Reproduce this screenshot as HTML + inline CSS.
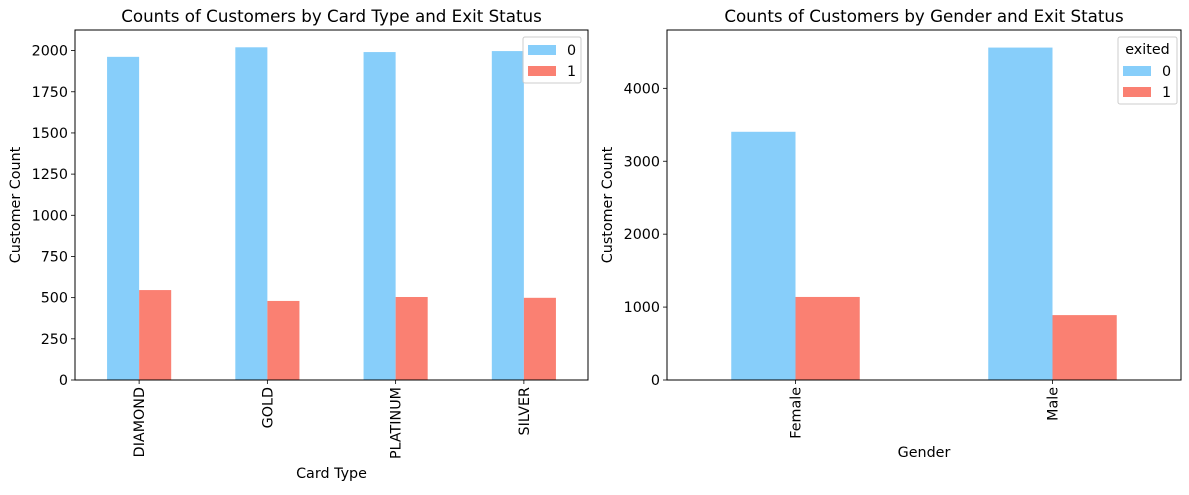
<!DOCTYPE html>
<html><head><meta charset="utf-8"><style>
body{margin:0;background:#fff;}
svg text{font-family:"DejaVu Sans","Liberation Sans",sans-serif;fill:#000;}
</style></head><body>
<svg id="chart" width="1189" height="490" viewBox="0 0 1189 490" xmlns="http://www.w3.org/2000/svg"></svg>
<script>
const cardCategories = ["DIAMOND","GOLD","PLATINUM","SILVER"];
const cardStay = [1962, 2020, 1991, 1997];
const cardExit = [546, 480, 504, 499];
const cardTicks = [0,250,500,750,1000,1250,1500,1750,2000];
const genderCategories = ["Female","Male"];
const genderStay = [3404, 4559];
const genderExit = [1139, 890];
const genderTicks = [0,1000,2000,3000,4000];
const seriesLabels = ["0","1"];

const NS="http://www.w3.org/2000/svg";
const svg=document.getElementById('chart');
function mk(tag,attrs,parent){const e=document.createElementNS(NS,tag);for(const k in attrs)e.setAttribute(k,attrs[k]);(parent||svg).appendChild(e);return e;}
const FS=14.3;
function panel(o){
  const g=mk('g',{});
  
  
  const L=o.left,R=o.right,T=30,B=380;
  const n=o.cats.length;
  const xs=i=>L+(i+0.5)*(R-L)/n;
  const ys=v=>B-(v/o.ymax)*(B-T);
  const bw=0.25*(R-L)/n;
  for(let i=0;i<n;i++){
    const v0=o.s0[i],v1=o.s1[i];
    const r0=mk('rect',{x:xs(i)-bw,y:ys(v0),width:bw,height:B-ys(v0),fill:'#87CEFA'},g);
    
    
    const r1=mk('rect',{x:xs(i),y:ys(v1),width:bw,height:B-ys(v1),fill:'#FA8072'},g);
    
    
    mk('line',{x1:xs(i),x2:xs(i),y1:B,y2:B+4,stroke:'#000','stroke-width':0.8},g);
    const t=mk('text',{x:0,y:0,'font-size':FS,'text-anchor':'end',transform:`translate(${xs(i)+5},${B+7}) rotate(-90)`},g);
    t.textContent=o.cats[i];
    
    
  }
  o.ticks.forEach(v=>{
    mk('line',{x1:L-4,x2:L,y1:ys(v),y2:ys(v),stroke:'#000','stroke-width':0.8},g);
    const t=mk('text',{x:L-7,y:ys(v)+5,'font-size':FS,'text-anchor':'end'},g);
    t.textContent=v;
    
    
  });
  const fr=mk('rect',{x:L,y:T,width:R-L,height:B-T,fill:'none',stroke:'#000','stroke-width':1},g);
  
  
  const ti=mk('text',{x:(L+R)/2,y:22,'font-size':16.7,'text-anchor':'middle'},g);
  ti.textContent=o.title;
  
  
  const xl=mk('text',{x:(L+R)/2,y:o.xlabelY,'font-size':FS,'text-anchor':'middle'},g);
  xl.textContent=o.xlabel;
  
  
  const yl=mk('text',{x:0,y:0,'font-size':FS,'text-anchor':'middle',transform:`translate(${o.ylabelX},${(T+B)/2}) rotate(-90)`},g);
  yl.textContent='Customer Count';
  
  
  const lg=mk('g',{},g);
  
  
  mk('rect',{x:o.lx,y:o.ly,width:o.lw,height:o.lh,fill:'#fff','fill-opacity':0.8,stroke:'#ccc',rx:2},lg);
  let y0=o.ly+8;
  if(o.ltitle){const lt=mk('text',{x:o.lx+o.lw/2,y:o.ly+17,'font-size':FS,'text-anchor':'middle'},lg);lt.textContent=o.ltitle;y0+=21;}
  const cols=['#87CEFA','#FA8072'];
  seriesLabels.forEach((s,k)=>{
    const e=mk('g',{},lg);
    
    
    mk('rect',{x:o.lx+5,y:y0+k*21,width:28,height:10,fill:cols[k]},e);
    const t=mk('text',{x:o.lx+44,y:y0+k*21+10,'font-size':FS},e);t.textContent=s;
  });
}
panel({name:'card-type-chart',left:75,right:588,cats:cardCategories,s0:cardStay,s1:cardExit,ticks:cardTicks,ymax:2125,
  title:'Counts of Customers by Card Type and Exit Status',xlabel:'Card Type',xlabelY:478,ylabelX:20,lx:523,ly:37,lw:58,lh:46,ltitle:null});
panel({name:'gender-chart',left:667,right:1181,cats:genderCategories,s0:genderStay,s1:genderExit,ticks:genderTicks,ymax:4800,
  title:'Counts of Customers by Gender and Exit Status',xlabel:'Gender',xlabelY:457,ylabelX:612,lx:1118,ly:37,lw:59,lh:67,ltitle:'exited'});
</script>
</body></html>
